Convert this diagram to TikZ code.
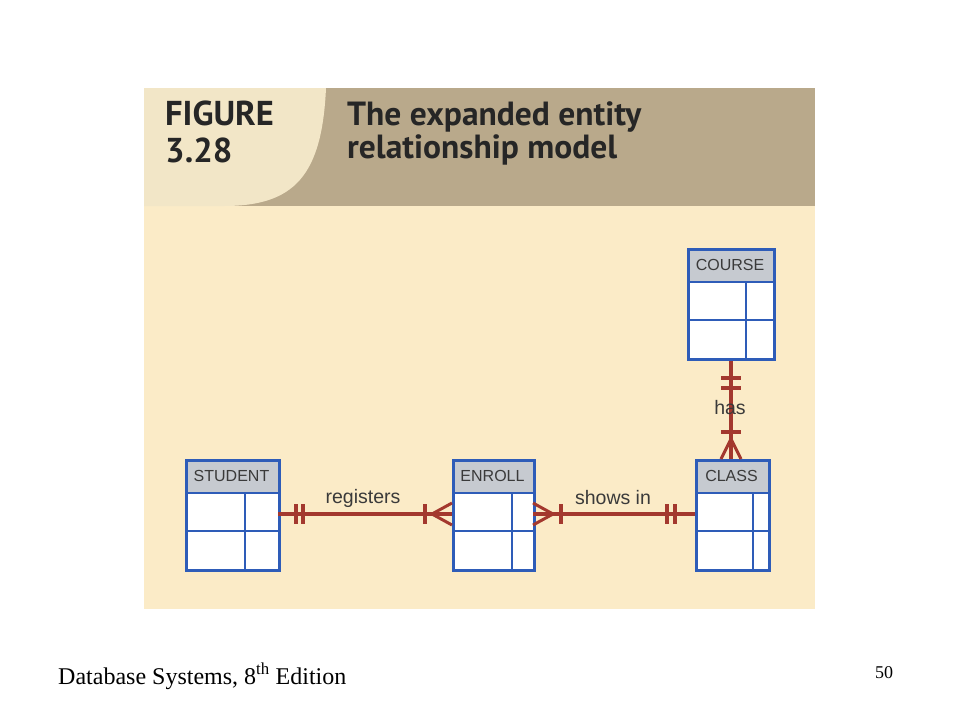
\documentclass[tikz,border=0pt]{standalone}
\usepackage{fontspec}
\setmainfont{Liberation Serif}
\newfontfamily\ersans{Liberation Sans}
\newfontfamily\titlefont{PT Sans}
\usetikzlibrary{calc}
\newcommand{\tightls}{\lineskiplimit=-30pt\relax}
\definecolor{bodyc}{HTML}{FBEBC7}
\definecolor{tanc}{HTML}{B9A98B}
\definecolor{lightc}{HTML}{F2E6C7}
\definecolor{headc}{HTML}{C6CAD0}
\definecolor{blu}{HTML}{2E5CB8}
\definecolor{relc}{HTML}{A3382E}
\definecolor{txtc}{HTML}{3A3A3A}
\tikzset{
  eline/.style={draw=blu, line width=2.5pt},
  ebox/.style={draw=blu, line width=2.5pt, inner sep=0pt, anchor=north west},
  ename/.style={font=\ersans\fontsize{16}{18}\selectfont, text=txtc, inner sep=0pt},
  rel/.style={draw=relc, line width=4pt},
  relbar/.style={draw=relc, line width=3.5pt},
  crow/.style={draw=relc, line width=3pt},
  rlabel/.style={font=\ersans\fontsize{19.5}{22}\selectfont, text=txtc, inner sep=0pt},
  ttl/.style={anchor=north west, align=left, inner sep=0pt, text=black!85},
}
% name, x1, y1, x2, y2, divider x, label
\newcommand{\erent}[7]{%
  \fill[headc] (#2,#3) rectangle (#4,#3+34);
  \fill[white] (#2,#3+34) rectangle (#4,#5);
  \node[ename] (#1L) at ({(#2+#4)/2},#3+17) {#7};
  \draw[eline] (#2,#3+34) -- (#4,#3+34);
  \draw[eline] (#2,{(#3+34+#5)/2}) -- (#4,{(#3+34+#5)/2});
  \draw[eline] (#6,#3+34) -- (#6,#5);
  \node[ebox, minimum width=#4-#2, minimum height=#5-#3] (#1) at (#2,#3) {};
  \coordinate (#1W) at (#2,{(#3+34+(#3+34+#5)/2)/2+2});
  \coordinate (#1E) at (#4,{(#3+34+(#3+34+#5)/2)/2+2});
}
\begin{document}
\begin{tikzpicture}[x=1pt,y=-1pt]
\useasboundingbox (0,0) rectangle (960,720);
\fill[white] (0,0) rectangle (960,720);
% panel
\fill[bodyc] (144,88) rectangle (815,609);
\fill[tanc] (144,88) rectangle (815,206);
\fill[lightc] (144,88) -- (326,88) .. controls (322,175) and (295,206) .. (224,206) -- (144,206) -- cycle;
\node[ttl, font=\titlefont\bfseries\fontsize{34.5}{37}\selectfont\tightls] (fig) at (165,101) {FIGURE\\3.28};
\node[ttl, font=\titlefont\bfseries\fontsize{33.5}{33}\selectfont\tightls] (title) at (347,101) {The expanded entity\\relationship model};
% entities
\erent{course}{687}{248}{773}{358}{746}{COURSE}
\erent{student}{185}{459}{278}{569}{245}{STUDENT}
\erent{enroll}{452}{459}{533}{569}{512}{ENROLL}
\erent{class}{695}{459}{768}{569}{753}{CLASS}
% STUDENT -- ENROLL
\draw[rel] (studentE) -- (enrollW);
\draw[relbar] ($(studentE)+(18,-10)$) -- ++(0,20);
\draw[relbar] ($(studentE)+(25,-10)$) -- ++(0,20);
\draw[relbar] ($(enrollW)+(-27,-10)$) -- ++(0,20);
\draw[crow] ($(enrollW)+(-20,0)$) -- ($(enrollW)+(0,-11)$);
\draw[crow] ($(enrollW)+(-20,0)$) -- ($(enrollW)+(0,11)$);
\node[rlabel] (lreg) at (363,498) {registers};
% ENROLL -- CLASS
\draw[rel] (enrollE) -- (classW);
\draw[crow] ($(enrollE)+(20,0)$) -- ($(enrollE)+(0,-11)$);
\draw[crow] ($(enrollE)+(20,0)$) -- ($(enrollE)+(0,11)$);
\draw[relbar] ($(enrollE)+(28,-10)$) -- ++(0,20);
\draw[relbar] ($(classW)+(-28,-10)$) -- ++(0,20);
\draw[relbar] ($(classW)+(-20,-10)$) -- ++(0,20);
\node[rlabel] (lshow) at (613,498) {shows in};
% COURSE -- CLASS
\coordinate (cb) at (731,358);
\coordinate (ct) at (731,459);
\draw[rel] (course.south -| cb) -- (class.north -| ct);
\draw[relbar] ($(cb)+(-10,20)$) -- ++(20,0);
\draw[relbar] ($(cb)+(-10,30)$) -- ++(20,0);
\node[rlabel] (lhas) at (730,408) {has};
\draw[relbar] ($(ct)+(-10,-27)$) -- ++(20,0);
\draw[crow] ($(ct)+(0,-20)$) -- ($(ct)+(-10,0)$);
\draw[crow] ($(ct)+(0,-20)$) -- ($(ct)+(10,0)$);
% footer
\node[anchor=base west, inner sep=0pt, font=\fontsize{24}{28}\selectfont] (foot) at (58,684) {Database Systems, 8\textsuperscript{th} Edition};
\node[anchor=base, inner sep=0pt, font=\fontsize{18}{20}\selectfont] (pg) at (884,678) {50};
\end{tikzpicture}
\end{document}
